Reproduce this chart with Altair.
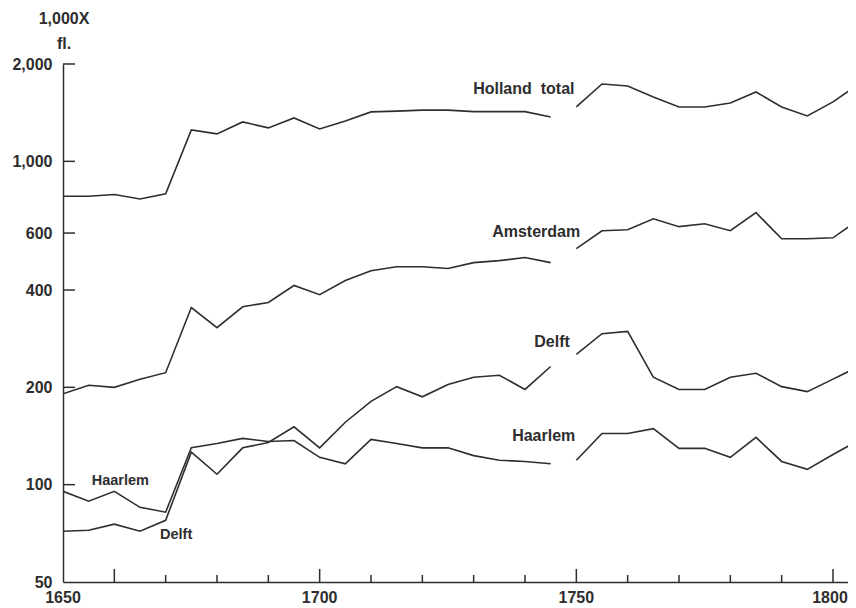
import altair as alt
import pandas as pd

# ---- data ----
years_left = list(range(1650, 1750, 5))      # 1650 .. 1745
years_right = list(range(1750, 1810, 5))     # 1750 .. 1805

holland_left = [780, 780, 790, 765, 794, 1251, 1216, 1324, 1269, 1362,
                1259, 1333, 1422, 1430, 1440, 1440, 1425, 1425, 1425, 1372]
holland_right = [1473, 1735, 1711, 1582, 1473, 1473, 1515, 1639, 1473, 1382, 1527, 1735]

amsterdam_left = [191, 203, 200, 212, 222, 353, 306, 355, 366, 413,
                  387, 428, 459, 472, 472, 466, 486, 493, 504, 486]
amsterdam_right = [537, 610, 614, 664, 628, 641, 610, 694, 576, 576, 580, 660]

delft_left = [71.8, 72.3, 75.5, 71.8, 77.6, 126, 107.7, 130, 135, 151,
              130, 156, 181, 201, 187, 204, 215, 218, 197, 232]
delft_right = [253, 293, 298, 215, 197, 197, 215, 221, 201, 194, 212, 232]

haarlem_left = [95.4, 88.9, 95.4, 85.1, 82.2, 130, 134, 139, 136, 137,
                121.5, 116, 138, 134, 130, 130, 123, 119, 118, 116]
haarlem_right = [119, 144, 144, 149, 129.5, 129.5, 121.5, 140, 118, 111.5, 124, 137]

label_text = ["Holland\u00a0\u00a0total", "Amsterdam", "Delft", "Haarlem", "Haarlem", "Delft"]
label_year = [1729.9, 1733.6, 1741.8, 1737.5, 1655.6, 1668.9]
label_value = [1675, 606, 277, 141, 102.4, 69.8]
label_size = [16, 16, 16, 16, 14.5, 14.5]

y_tick_values = [100, 200, 400, 600, 1000, 2000]
y_label_values = [50, 100, 200, 400, 600, 1000, 2000]
x_label_values = [1650, 1700, 1750]
x_last_label = [1800]
x_major_ticks = [1660, 1700, 1750, 1800]
x_minor_ticks = [1670, 1680, 1690, 1710, 1720, 1730, 1740,
                 1760, 1770, 1780, 1790]

# ---- build tables ----
rows = []
for name, left, right in [("Holland total", holland_left, holland_right),
                          ("Amsterdam", amsterdam_left, amsterdam_right),
                          ("Delft", delft_left, delft_right),
                          ("Haarlem", haarlem_left, haarlem_right)]:
    for y, v in zip(years_left, left):
        rows.append({"series": name, "seg": "a", "year": y, "value": v})
    for y, v in zip(years_right, right):
        rows.append({"series": name, "seg": "b", "year": y, "value": v})
lines_df = pd.DataFrame(rows)

labels_df = pd.DataFrame({"text": label_text, "year": label_year,
                          "value": label_value, "fs": label_size})
yt_df = pd.DataFrame({"value": y_tick_values})
xmaj_df = pd.DataFrame({"year": x_major_ticks})
xmin_df = pd.DataFrame({"year": x_minor_ticks})
xl_df = pd.DataFrame({"year": x_label_values})
xl2_df = pd.DataFrame({"year": x_last_label})

INK = "#2e2e2e"
FONT = "Liberation Sans"
PW, PH = 785, 518
px_per_year = 770 / 150.0

x_scale = alt.Scale(domain=[1650, 1650 + PW / px_per_year], nice=False, zero=False)
y_scale = alt.Scale(type="log", domain=[50, 2000], nice=False)

x_enc = alt.X("year:Q", scale=x_scale,
              axis=alt.Axis(title=None, grid=False, ticks=False, tickSize=0,
                            labels=False, domainColor=INK, domainWidth=1.5))
y_enc = alt.Y("value:Q", scale=y_scale,
              axis=alt.Axis(values=y_label_values, format=",d",
                            title=["1,000X", "fl."], titleAngle=0,
                            titleX=0.5, titleY=-41, titleAlign="center",
                            titleBaseline="alphabetic", titleLineHeight=25,
                            titleFontSize=16, titleFontWeight="bold",
                            titleColor=INK, titleFont=FONT,
                            grid=False, ticks=False, tickSize=0,
                            labelPadding=11, labelFontSize=16,
                            labelFontWeight="bold", labelColor=INK,
                            labelFont=FONT, domainColor=INK, domainWidth=1.5,
                            labelFlush=False))

lines = alt.Chart(lines_df).mark_line(color=INK, strokeWidth=1.6, clip=True).encode(
    x=x_enc, y=y_enc, detail=["series:N", "seg:N"])

labels = alt.Chart(labels_df).mark_text(align="left", baseline="middle",
                                        fontWeight="bold", font=FONT,
                                        color=INK).encode(
    x="year:Q", y="value:Q", text="text:N",
    size=alt.Size("fs:Q", scale=None, legend=None))

yticks = alt.Chart(yt_df).mark_rule(color=INK, strokeWidth=1.5).encode(
    y="value:Q", x=alt.value(0), x2=alt.value(12))

xmaj = alt.Chart(xmaj_df).mark_rule(color=INK, strokeWidth=1.5).encode(
    x="year:Q", y=alt.value(PH), y2=alt.value(PH - 13))
xmin = alt.Chart(xmin_df).mark_rule(color=INK, strokeWidth=1.5).encode(
    x="year:Q", y=alt.value(PH), y2=alt.value(PH - 7))

xlabels = alt.Chart(xl_df).mark_text(align="center", baseline="top",
                                     fontSize=16, fontWeight="bold",
                                     font=FONT, color=INK).encode(
    x="year:Q", y=alt.value(PH + 8), text=alt.Text("year:Q", format="d"))
xlabel_last = alt.Chart(xl2_df).mark_text(align="center", baseline="top",
                                          fontSize=16, fontWeight="bold",
                                          font=FONT, color=INK, dx=-3).encode(
    x="year:Q", y=alt.value(PH + 8), text=alt.Text("year:Q", format="d"))

chart = alt.layer(lines, labels, yticks, xmaj, xmin, xlabels, xlabel_last).properties(
    width=PW, height=PH,
    autosize=alt.AutoSizeParams(type="none"),
    padding={"left": 55, "top": 56, "right": 0, "bottom": 26},
    background="white",
).configure_view(stroke=None)

chart.save("out.html", embed_options={"renderer": "svg", "actions": False})
